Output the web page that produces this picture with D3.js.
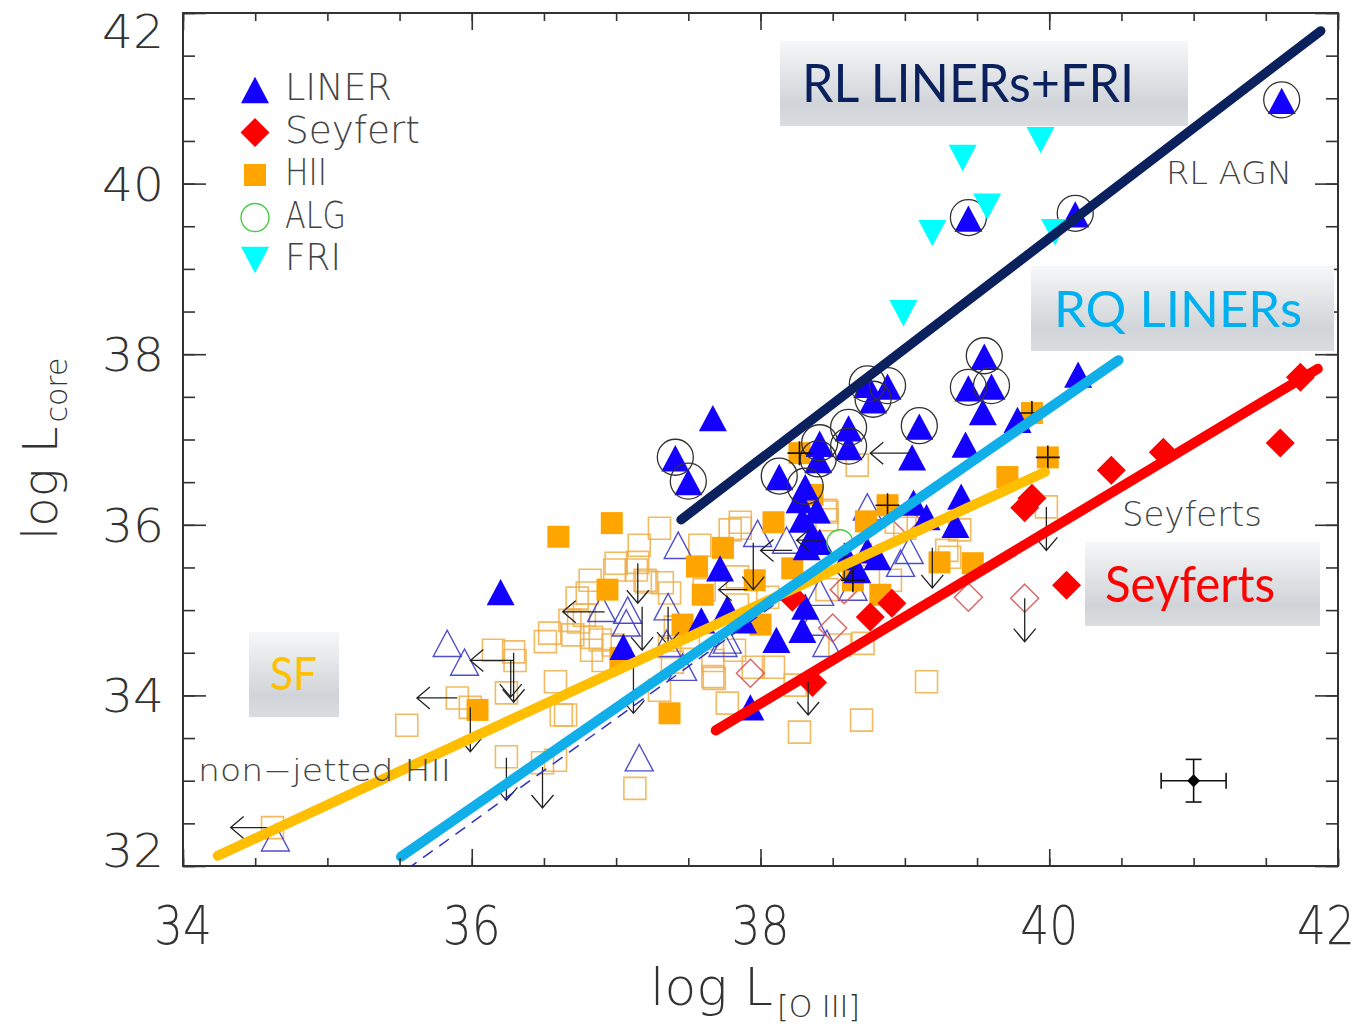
<!DOCTYPE html>
<html><head><meta charset="utf-8">
<script src="https://cdn.jsdelivr.net/npm/d3@7"></script>
<style>body{margin:0;background:#fff}svg{display:block}</style>
</head><body>
<svg id="c" width="1371" height="1030"></svg>
<script>
// ---------------- DATA (log L[O III], log L_core) ----------------
const xTicksMajor = [34, 36, 38, 40, 42];
const yTicksMajor = [32, 34, 36, 38, 40, 42];
const xLabel = "log L";
const xLabelSub = "[O III]";
const yLabel = "log L";
const yLabelSub = "core";

const legendNames = ["LINER", "Seyfert", "HII", "ALG", "FRI"];

const linerFilled = [
  [37.67,37.25],[36.20,35.21],[40.20,37.76],[39.54,37.32],[39.78,37.23],[39.42,36.94],
  [39.05,36.79],[38.27,36.29],[38.39,36.17],[38.29,36.06],[38.36,35.88],[38.41,35.80],
  [38.32,35.74],[38.74,35.70],[38.81,35.62],[39.06,36.26],[39.15,36.09],[39.39,36.33],
  [39.35,36.00],[37.72,35.49],[37.59,34.88],[37.77,35.02],[37.88,34.88],[38.11,34.65],
  [38.29,34.77],[38.31,35.04],[38.67,35.47],[38.60,35.62],[37.05,34.57],[37.93,33.86]
];
const linerCircled = [
  [41.61,40.97],[40.18,39.64],[39.44,39.59],[37.41,36.78],[37.50,36.50],[38.74,37.64],
  [38.88,37.62],[38.78,37.46],[38.61,37.13],[38.61,36.91],[39.10,37.15],[38.13,36.56],
  [38.41,36.95],[38.40,36.76],[38.31,36.44],[39.55,37.97],[39.44,37.60],[39.60,37.62]
];
const linerOpen = [
  [35.83,34.61],[35.95,34.39],[34.64,32.33],[37.16,33.27],[37.43,35.76],[36.90,35.02],
  [37.08,35.00],[37.07,34.85],[37.36,35.04],[37.46,34.33],[37.35,34.61],[37.77,34.65],
  [37.98,35.90],[38.18,35.82],[38.97,35.55],[39.03,35.70],[38.74,36.21],[38.41,35.21],
  [38.46,34.61],[38.36,34.86],[37.74,34.61],[38.64,35.27]
];
const seyfertFilled = [
  [41.74,37.73],[41.60,36.96],[40.79,36.85],[40.43,36.64],[39.83,36.20],[39.88,36.31],
  [40.12,35.29],[38.76,34.92],[38.91,35.08],[38.36,34.15],[38.22,35.15]
];
const seyfertOpen = [
  [39.44,35.15],[39.83,35.14],[37.93,34.26],[38.50,34.79],[38.58,35.24],[39.01,36.06]
];
const hiiFilled = [
  [36.60,35.86],[36.97,36.02],[36.94,35.24],[36.04,33.83],[37.37,33.79],[37.03,34.44],
  [37.60,35.18],[37.56,35.51],[37.46,34.83],[37.96,35.35],[38.00,34.83],[37.74,35.73],
  [38.09,36.03],[38.36,36.35],[38.83,35.18],[39.24,35.56],[39.47,35.55],[39.71,36.56],
  [38.73,36.04],[38.22,35.49]
];
const hiiCrossed = [
  [38.27,36.84],[39.88,37.31],[39.99,36.79],[38.88,36.23],[38.64,35.35]
];
const hiiOpen = [
  [35.55,33.65],[35.90,33.97],[35.99,33.86],[36.15,34.53],[36.29,34.51],[36.30,34.41],
  [36.24,34.03],[36.51,34.63],[36.54,34.73],[36.58,34.16],[36.62,33.77],[36.24,33.28],
  [36.49,33.21],[36.58,33.24],[36.74,34.86],[36.73,35.14],[34.62,32.45],
  [36.80,35.20],[36.70,34.71],[36.65,33.77],[36.83,34.53],[36.91,34.41],[36.98,34.59],
  [37.14,35.47],[37.21,35.33],[37.32,35.32],[37.37,35.20],[37.41,34.80],[37.50,34.68],
  [37.37,34.57],[37.68,34.20],[37.77,33.91],[37.67,34.41],[37.95,34.33],[38.09,34.33],
  [38.24,34.12],[38.27,33.57],[38.70,33.71],[38.71,34.61],[39.15,34.16],[37.13,32.91],
  [37.84,35.06],[37.15,35.56],[37.86,36.03],[37.79,35.94],[38.46,36.15],[38.46,36.06],
  [38.94,36.03],[39.00,35.96],[39.29,35.70],[38.90,35.35],[38.05,35.15],[37.39,34.39],
  [37.67,34.22],[37.84,35.39],[36.78,34.94],[36.83,34.68],[38.67,36.70],[38.45,36.17],
  [37.00,35.55],[39.98,36.21],[39.31,35.62],[36.82,35.35],[36.99,35.47],[37.16,35.76],
  [37.30,35.96],[37.58,35.76],[37.86,35.96],[36.68,34.88],[36.89,34.65],[37.20,35.35],
  [37.61,35.24],[37.82,34.53],[37.30,34.06],[38.55,34.59],[38.69,35.65],[39.38,35.94],
  [38.46,35.24]
];
const algPoints = [[38.55,35.79]];
const friPoints = [
  [39.40,40.30],[39.94,40.51],[39.19,39.42],[39.57,39.73],[40.04,39.43],[38.99,38.48]
];
// upper limits: [x, y from, y to]
const downLimits = [
  [39.98,36.21,35.70],[39.83,35.14,34.63],[38.33,34.16,33.77],[39.19,35.73,35.26],
  [35.99,33.86,33.34],[36.29,34.50,33.92],[36.27,34.41,33.98],[36.24,33.27,32.77],
  [36.49,33.16,32.68],[37.15,35.55,35.08],[37.18,35.04,34.53],[37.12,34.41,33.79],
  [37.95,35.79,35.24],[38.58,35.79,35.35],[37.36,35.04,34.59]
];
// left limits: [x from, x to, y]
const leftLimits = [
  [34.60,34.33,32.45],[35.90,35.62,33.97],[36.29,35.99,34.41],[36.92,36.63,34.98],
  [38.22,38.00,35.70],[38.43,38.25,35.82],[37.91,37.71,35.24],[39.05,38.76,36.84]
];
// fitted relations: [x1, y1, x2, y2]
const fitRL = [37.45,36.06,41.88,41.79];
const fitRQ = [35.51,32.11,40.48,37.93];
const fitRQdash = [35.55,31.96,39.50,36.78];
const fitSF = [34.24,32.12,39.97,36.62];
const fitSey = [37.69,33.59,41.86,37.83];
// typical error bar: [x, y, xerr, yerr]
const errBar = [41.0, 33.0, 0.225, 0.25];

// ---------------- CHART ----------------
const svg = d3.select("#c");
const x = d3.scaleLinear().domain([34, 42]).range([183, 1338]);
const y = d3.scaleLinear().domain([32, 42]).range([866, 13]);
const FONT = "'DejaVu Sans', sans-serif";
const GILL = "Lato, 'Open Sans', sans-serif";

const defs = svg.append("defs");
const grad = defs.append("linearGradient").attr("id","boxg").attr("x1",0).attr("y1",0).attr("x2",0).attr("y2",1);
grad.append("stop").attr("offset","0%").attr("stop-color","#f6f7f8");
grad.append("stop").attr("offset","75%").attr("stop-color","#d0d4d8");
grad.append("stop").attr("offset","100%").attr("stop-color","#dadde0");
defs.append("clipPath").attr("id","plotclip").append("rect")
  .attr("x",183).attr("y",13).attr("width",1155).attr("height",853);

// symbol types (size = full width in px)
const triUp = {draw(c, s){ const w=s/2, h=s*0.47; c.moveTo(0,-h); c.lineTo(w,h); c.lineTo(-w,h); c.closePath(); }};
const triDown = {draw(c, s){ const w=s/2, h=s*0.47; c.moveTo(0,h); c.lineTo(w,-h); c.lineTo(-w,-h); c.closePath(); }};
const diamond = {draw(c, s){ const r=s/2; c.moveTo(0,-r); c.lineTo(r,0); c.lineTo(0,r); c.lineTo(-r,0); c.closePath(); }};
const square = {draw(c, s){ const r=s/2; c.rect(-r,-r,s,s); }};
const cross = {draw(c, s){ const r=s/2; c.moveTo(-r,0); c.lineTo(r,0); c.moveTo(0,-r); c.lineTo(0,r); }};

const plot = svg.append("g").attr("clip-path","url(#plotclip)");
function pts(data, type, size, fill, stroke, sw, op) {
  plot.append("g").selectAll("path").data(data).join("path")
    .attr("transform", d => `translate(${x(d[0])},${y(d[1])})`)
    .attr("d", d3.symbol().type(type).size(size))
    .attr("fill", fill).attr("stroke", stroke).attr("stroke-width", sw)
    .attr("opacity", op == null ? 1 : op);
}

pts(hiiOpen, square, 22, "none", "#eeae48", 1.6, 0.85);
pts(linerOpen, triUp, 28, "none", "#3b3bc8", 1.4, 0.9);
pts(seyfertOpen, diamond, 28, "none", "#d85858", 1.5, 0.9);
pts(hiiFilled, square, 22, "#ffa500", "none", 0);
pts(hiiCrossed, square, 22, "#ffa500", "none", 0);
pts(linerFilled, triUp, 28, "#1400ff", "none", 0);
pts(linerCircled, triUp, 28, "#1400ff", "none", 0);
plot.append("g").selectAll("circle").data(linerCircled).join("circle")
  .attr("cx", d => x(d[0])).attr("cy", d => y(d[1]) - 1).attr("r", 18)
  .attr("fill","none").attr("stroke","#333").attr("stroke-width",1.3);
pts(seyfertFilled, diamond, 29, "#ff0000", "none", 0);
pts(friPoints, triDown, 28, "#00ffff", "none", 0);
plot.append("g").selectAll("circle").data(algPoints).join("circle")
  .attr("cx", d => x(d[0])).attr("cy", d => y(d[1])).attr("r", 13)
  .attr("fill","none").attr("stroke","#44cc44").attr("stroke-width",1.4);
pts(hiiCrossed, cross, 24, "none", "#111", 1.6);

// limit arrows
const arr = plot.append("g").attr("fill","none").attr("stroke","#222").attr("stroke-width",1.3);
arr.selectAll("path.d").data(downLimits).join("path").attr("class","d")
  .attr("d", d => { const X=x(d[0]), Y1=y(d[1]), Y2=y(d[2]);
    return `M${X},${Y1}V${Y2}M${X-11},${Y2-13}L${X},${Y2}L${X+11},${Y2-13}`; });
arr.selectAll("path.l").data(leftLimits).join("path").attr("class","l")
  .attr("d", d => { const X1=x(d[0]), X2=x(d[1]), Y=y(d[2]);
    return `M${X1},${Y}H${X2}M${X2+13},${Y-11}L${X2},${Y}L${X2+13},${Y+11}`; });

// fit lines
function fit(f, color, w, dash) {
  plot.append("line").attr("x1", x(f[0])).attr("y1", y(f[1])).attr("x2", x(f[2])).attr("y2", y(f[3]))
    .attr("stroke", color).attr("stroke-width", w).attr("stroke-linecap", dash ? "butt" : "round")
    .attr("stroke-dasharray", dash || null);
}
fit(fitSey, "#ff0000", 10);
fit(fitRQdash, "#3030c8", 1.5, "12,8");
fit(fitSF, "#ffbe00", 10);
fit(fitRQ, "#10afe9", 10);
fit(fitRL, "#0b215e", 9.5);

// error bar
const eb = plot.append("g").attr("stroke","#111").attr("stroke-width",1.6);
eb.append("line").attr("x1",x(errBar[0]-errBar[2])).attr("x2",x(errBar[0]+errBar[2])).attr("y1",y(errBar[1])).attr("y2",y(errBar[1]));
eb.append("line").attr("y1",y(errBar[1]-errBar[3])).attr("y2",y(errBar[1]+errBar[3])).attr("x1",x(errBar[0])).attr("x2",x(errBar[0]));
[errBar[0]-errBar[2], errBar[0]+errBar[2]].forEach(v => eb.append("line").attr("x1",x(v)).attr("x2",x(v)).attr("y1",y(errBar[1])-8).attr("y2",y(errBar[1])+8));
[errBar[1]-errBar[3], errBar[1]+errBar[3]].forEach(v => eb.append("line").attr("y1",y(v)).attr("y2",y(v)).attr("x1",x(errBar[0])-8).attr("x2",x(errBar[0])+8));
plot.append("path").attr("transform",`translate(${x(errBar[0])},${y(errBar[1])})`)
  .attr("d", d3.symbol().type(diamond).size(13)).attr("fill","#000");

// axes (ticks inward on all four sides)
const xMinor = d3.range(34, 42.001, 0.5), yMinor = d3.range(32, 42.001, 0.5);
function ax(gen, scale, vals, len, tr) {
  const g = svg.append("g").attr("transform", tr)
    .call(gen(scale).tickValues(vals).tickSize(len).tickFormat(""));
  g.select(".domain").remove();
  g.selectAll("line").attr("stroke","#333").attr("stroke-width",1.6);
  return g;
}
ax(d3.axisBottom, x, xMinor, -8, "translate(0,866)");
ax(d3.axisBottom, x, xTicksMajor, -17, "translate(0,866)");
ax(d3.axisTop, x, xMinor, -8, "translate(0,13)");
ax(d3.axisTop, x, xTicksMajor, -17, "translate(0,13)");
ax(d3.axisLeft, y, yMinor, -12, "translate(183,0)");
ax(d3.axisLeft, y, yTicksMajor, -23, "translate(183,0)");
ax(d3.axisRight, y, yMinor, -12, "translate(1338,0)");
ax(d3.axisRight, y, yTicksMajor, -23, "translate(1338,0)");
svg.append("rect").attr("x",183).attr("y",13).attr("width",1155).attr("height",853)
  .attr("fill","none").attr("stroke","#333").attr("stroke-width",2);

// tick labels
svg.append("g").selectAll("text").data(xTicksMajor).join("text")
  .attr("x", d => x(d) - (d === 42 ? 12 : 0)).attr("y", 944).attr("text-anchor","middle")
  .attr("font-family", FONT).attr("font-weight",200).attr("font-size",54).attr("fill","#333")
  .attr("textLength", 58).attr("lengthAdjust","spacingAndGlyphs").text(d => d);
svg.append("g").selectAll("text").data(yTicksMajor).join("text")
  .attr("x", 164).attr("y", d => y(d) + 17 + (d === 42 ? 18 : d === 32 ? -16 : 0))
  .attr("text-anchor","end")
  .attr("font-family", FONT).attr("font-weight",200).attr("font-size",47).attr("fill","#333")
  .attr("textLength", 62).attr("lengthAdjust","spacingAndGlyphs").text(d => d);

// axis titles
const xt = svg.append("text").attr("x", 650).attr("y", 1005)
  .attr("font-family", FONT).attr("font-weight",200).attr("fill","#333");
xt.append("tspan").attr("font-size",52).text(xLabel);
xt.append("tspan").attr("font-size",30).attr("dx",4).attr("dy",12).text(xLabelSub);
const yt = svg.append("text").attr("transform","translate(57,540) rotate(-90)")
  .attr("font-family", FONT).attr("font-weight",200).attr("fill","#333");
yt.append("tspan").attr("font-size",48).text(yLabel);
yt.append("tspan").attr("font-size",30).attr("dx",4).attr("dy",10).text(yLabelSub);

// in-plot gray labels
function gtxt(t, px, py, fs, w) {
  svg.append("text").attr("x",px).attr("y",py).attr("font-family",FONT).attr("font-weight",200)
    .attr("font-size",fs).attr("fill","#444").attr("textLength",w).attr("lengthAdjust","spacingAndGlyphs").text(t);
}
gtxt("RL  AGN", 1166, 184, 32, 126);
gtxt("Seyferts", 1122, 526, 34, 140);
gtxt("non\u2212jetted  HII", 198, 781, 30, 253);

// annotation boxes
function box(bx, by, bw, bh, t, color, tx, ty, fs, tw) {
  svg.append("rect").attr("x",bx).attr("y",by).attr("width",bw).attr("height",bh).attr("fill","url(#boxg)");
  svg.append("text").attr("x",tx).attr("y",ty).attr("font-family",GILL).attr("font-size",fs)
    .attr("fill",color).attr("textLength",tw).attr("lengthAdjust","spacingAndGlyphs").text(t);
}
box(780, 41, 408, 85, "RL LINERs+FRI", "#0b215e", 802, 102, 53, 332);
box(1031, 266, 303, 85, "RQ LINERs", "#00b0f0", 1054, 327, 51, 248);
box(1085, 542, 235, 84, "Seyferts", "#ff0000", 1105, 602, 51, 170);
box(249, 632, 90, 85, "SF", "#ffc000", 270, 690, 46, 47);

// legend
const lg = svg.append("g");
const legendSyms = [
  {type: triUp, size: 28, fill: "#1400ff", stroke: "none"},
  {type: diamond, size: 29, fill: "#ff0000", stroke: "none"},
  {type: square, size: 22, fill: "#ffa500", stroke: "none"},
  {type: null, size: 14, fill: "none", stroke: "#44cc44"},
  {type: triDown, size: 28, fill: "#00ffff", stroke: "none"}
];
const legendW = [107, 135, 42, 61, 56];
legendNames.forEach((n, i) => {
  const cy = 90 + i * 42.5, s = legendSyms[i];
  if (s.type) lg.append("path").attr("transform",`translate(255,${cy})`)
      .attr("d", d3.symbol().type(s.type).size(s.size)).attr("fill", s.fill);
  else lg.append("circle").attr("cx",255).attr("cy",cy).attr("r",s.size).attr("fill","none")
      .attr("stroke",s.stroke).attr("stroke-width",1.4);
  lg.append("text").attr("x",285).attr("y",cy+10).attr("font-family",FONT).attr("font-weight",200)
    .attr("font-size",37).attr("fill","#444").attr("textLength",legendW[i])
    .attr("lengthAdjust","spacingAndGlyphs").text(n);
});
</script>
</body></html>
